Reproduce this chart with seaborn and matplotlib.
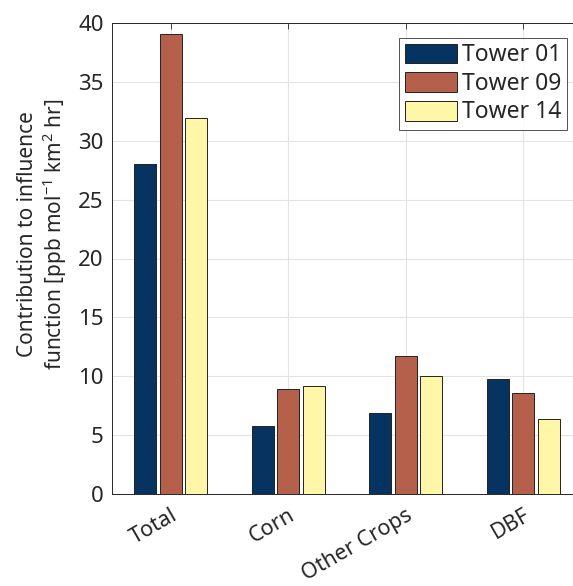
import matplotlib
matplotlib.use("Agg")
import matplotlib.pyplot as plt
import matplotlib.transforms as mtrans
import seaborn as sns
import pandas as pd

categories = ["Total", "Corn", "Other Crops", "DBF"]
towers = ["Tower 01", "Tower 09", "Tower 14"]
tower01 = [28.0, 5.8, 6.9, 9.8]
tower09 = [39.1, 8.9, 11.7, 8.6]
tower14 = [31.9, 9.2, 10.0, 6.4]
colors = ["#073360", "#b4604b", "#fff6a8"]

rows = []
for t, vals in zip(towers, [tower01, tower09, tower14]):
    for c, v in zip(categories, vals):
        rows.append({"cat": c, "tower": t, "val": v})
df = pd.DataFrame(rows)

sns.set_style("white")
plt.rcParams['font.family'] = ['Noto Sans', 'DejaVu Sans']
plt.rcParams['mathtext.default'] = 'regular'

fig = plt.figure(figsize=(5.73, 5.86), dpi=100)
ax = fig.add_axes([112/573, 1-494/586, 470/573, 471/586])
sns.barplot(data=df, x="cat", y="val", hue="tower", palette=colors,
            order=categories, hue_order=towers, width=0.65, gap=0.15,
            saturation=1, edgecolor="#222222", linewidth=0.7, ax=ax, zorder=3)
ax.set_xlim(-0.5, 3.5)
ax.set_ylim(0, 40)
ax.set_yticks(range(0, 41, 5))
ax.grid(True, color="#e3e3e3", linewidth=0.8, zorder=0)
ax.set_axisbelow(True)
ax.set_xlabel("")
ax.set_ylabel("Contribution to influence\nfunction [ppb mol$^{-1}$ km$^{2}$ hr]",
              fontsize=15, color="#262626", linespacing=1.1)
ax.yaxis.set_label_coords(-0.092, 0.552)
ax.tick_params(axis="both", direction="in", length=4, width=0.6, color="#262626",
               labelsize=16, labelcolor="#262626", top=True, right=True)
ax.tick_params(axis="y", pad=6)
offset = mtrans.ScaledTranslation(0, -6/100, fig.dpi_scale_trans)
for lab in ax.get_xticklabels():
    lab.set_rotation(30)
    lab.set_ha("right")
    lab.set_va("top")
    lab.set_rotation_mode("anchor")
    lab.set_fontsize(15.5)
    lab.set_transform(lab.get_transform() + offset)
for s in ax.spines.values():
    s.set_color("#262626")
    s.set_linewidth(0.7)
leg = ax.legend(loc="upper right", bbox_to_anchor=(0.968, 0.969), fontsize=16.5,
                frameon=True, fancybox=False, edgecolor="#262626",
                handlelength=2.3, handleheight=0.95, handletextpad=0.2,
                borderpad=0.25, labelspacing=0.2, borderaxespad=0)
leg.get_frame().set_linewidth(0.7)
fig.savefig("out.png", dpi=100)
